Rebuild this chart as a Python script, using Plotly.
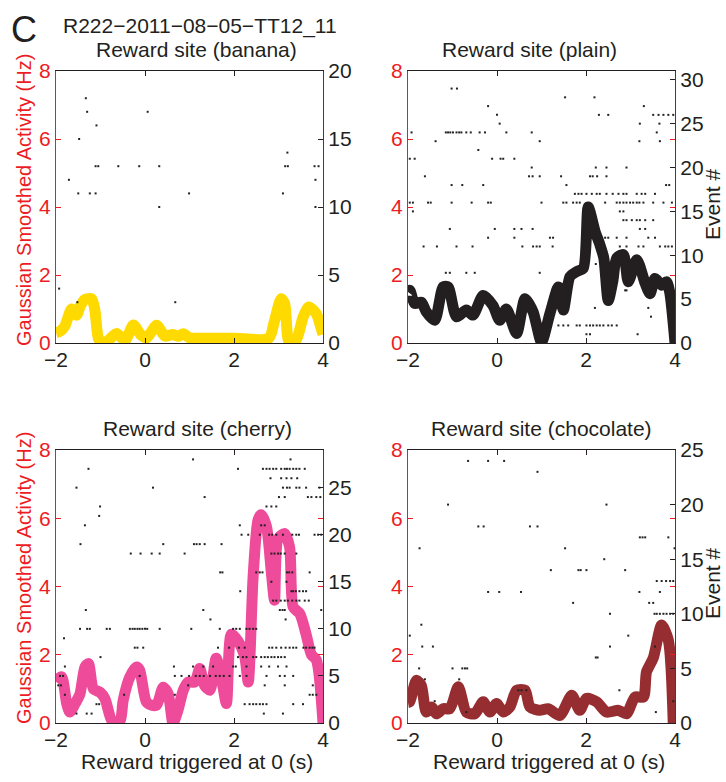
import plotly.graph_objects as go

# ---------------- data ----------------
time_range = [-2, 4]
hz_range = [0, 8]

banana_t = [-2.0, -1.9, -1.8, -1.65, -1.54, -1.45, -1.35, -1.2, -1.13, -1.05, -0.98, -0.85, -0.64, -0.45,
            -0.26, -0.1, 0.04, 0.26, 0.45, 0.62, 0.75, 0.86, 1.0, 1.1, 2.0, 2.78, 2.9, 3.06, 3.14, 3.24,
            3.4, 3.55, 3.68, 3.85, 3.95, 4.0]
banana_hz = [0.3, 0.35, 0.5, 1.0, 0.82, 1.1, 1.28, 1.3, 1.0, 0.15, 0.02, 0.05, 0.28, 0.08,
             0.53, 0.25, 0.15, 0.52, 0.2, 0.25, 0.2, 0.27, 0.15, 0.14, 0.14, 0.14, 0.6, 1.3, 1.15, 0.02,
             0.1, 0.75, 1.06, 0.86, 0.47, 0.25]

plain_t = [-2.0, -1.96, -1.85, -1.7, -1.59, -1.4, -1.21, -1.1, -0.91, -0.69, -0.54, -0.31, -0.09, 0.06,
           0.21, 0.44, 0.63, 0.81, 1.0, 1.19, 1.38, 1.49, 1.64, 1.79, 1.94, 2.05, 2.2, 2.31, 2.4, 2.5,
           2.6, 2.69, 2.84, 2.95, 3.14, 3.33, 3.44, 3.55, 3.7, 3.81, 3.88, 4.0]
plain_hz = [1.5, 1.55, 1.16, 1.2, 0.92, 0.67, 1.65, 1.65, 0.77, 0.97, 0.82, 1.4, 1.1, 0.67,
            1.0, 0.28, 1.3, 0.92, 0.03, 0.87, 1.65, 0.97, 1.95, 2.1, 2.2, 4.0, 3.3, 2.9, 2.5, 1.25,
            1.8, 2.5, 2.6, 1.8, 2.45, 1.75, 1.45, 1.9, 1.7, 1.8, 1.5, 0.0]

cherry_t = [-2.0, -1.95, -1.87, -1.76, -1.69, -1.57, -1.46, -1.35, -1.27, -1.16, -1.01, -0.9, -0.75, -0.64,
            -0.55, -0.49, -0.34, -0.19, -0.12, 0.03, 0.15, 0.26, 0.41, 0.52, 0.63, 0.74, 0.86, 0.97,
            1.12, 1.23, 1.34, 1.46, 1.6, 1.72, 1.83, 1.94, 2.09, 2.24, 2.32, 2.43, 2.54, 2.61, 2.73,
            2.84, 2.91, 2.99, 3.14, 3.25, 3.33, 3.48, 3.62, 3.74, 3.85, 4.0]
cherry_hz = [1.2, 1.3, 1.35, 0.57, 0.32, 0.57, 0.86, 1.64, 1.74, 1.0, 0.9, 0.71, 0.08, 0.0,
             0.1, 0.66, 1.35, 1.64, 1.55, 0.62, 0.52, 0.52, 1.05, 0.86, 0.0, 0.37, 0.96, 1.2,
             1.2, 1.6, 1.1, 0.96, 1.9, 1.3, 0.57, 2.6, 2.4, 1.95, 1.2, 4.3, 5.95, 6.1, 5.75,
             4.4, 3.6, 5.4, 5.55, 5.15, 3.4, 3.2, 2.6, 2.0, 1.85, 0.0]

chocolate_t = [-2.0, -1.96, -1.81, -1.7, -1.59, -1.47, -1.36, -1.21, -1.06, -0.87, -0.69, -0.5, -0.31,
               -0.16, -0.01, 0.14, 0.29, 0.44, 0.63, 0.74, 0.96, 1.15, 1.41, 1.68, 1.86, 2.01, 2.24,
               2.46, 2.73, 2.91, 3.1, 3.29, 3.36, 3.51, 3.7, 3.85, 3.96]
chocolate_hz = [0.6, 0.62, 1.25, 1.1, 0.32, 0.47, 0.27, 0.42, 0.42, 1.06, 0.32, 0.27, 0.62,
                0.32, 0.57, 0.32, 0.47, 0.96, 0.96, 0.47, 0.37, 0.42, 0.22, 0.81, 0.37, 0.72, 0.62,
                0.32, 0.37, 0.27, 0.76, 0.76, 1.5, 1.9, 2.87, 2.43, 0.0]

# raster rows: (event #, spike times in s)
banana_raster = [
    (18, [-1.33]), (17, [-1.30, 0.06]), (16, [-1.09]), (15, [-1.48]), (14, [3.20]),
    (13, [-1.11, -1.05, -0.60, -0.13, 0.32, 3.15, 3.21, 3.81, 3.90]),
    (12, [-1.71, 3.83]), (11, [-1.50, -1.24, -1.11, 0.99, 3.10]), (10, [0.32, 3.83]),
    (4, [-1.93]), (3, [-1.52, 0.68]),
]
plain_raster = [
    (29, [-1.02, -0.90]), (28, [1.53, 2.19]), (27, [-0.20, 3.30]),
    (26, [0.00, 2.29, 2.50, 3.51, 3.63, 3.74, 3.85, 3.96]), (25, [0.06, 3.21, 3.65]),
    (24, [-1.92, -1.15, -1.10, -1.05, -0.99, -0.91, -0.85, -0.80, -0.69, -0.59, -0.39, -0.27, 0.21, 0.78, 3.59]),
    (23, [-1.38, 0.96, 3.20, 3.66]), (22, [-0.42]), (21, [-1.96, -1.85, -0.11, 0.08, 0.14, 0.39]),
    (20, [0.78, 2.22, 2.46, 2.91]), (19, [-1.62, 0.72, 0.80, 0.96, 1.44, 2.09, 2.15, 2.25, 2.46]),
    (18, [-1.02, -0.78, -0.31, 1.56, 3.80, 3.87]),
    (17, [1.75, 1.83, 1.90, 2.01, 2.13, 2.24, 2.31, 2.46, 2.60, 2.73, 2.84, 2.91, 3.14, 3.25, 3.33, 3.55]),
    (16, [-1.96, -1.89, -1.55, -1.49, -1.02, -0.57, -0.20, -0.14, 1.00, 1.49, 1.56, 1.71, 1.79, 1.86, 2.43,
          2.69, 2.76, 2.84, 2.91, 2.99, 3.06, 3.14, 3.20, 3.29, 3.51, 3.74, 3.93]),
    (15, [-1.89, 2.76, 2.84]), (14, [2.84, 2.91, 3.03, 3.14, 3.21, 3.33, 3.51]),
    (13, [-1.06, -0.05, 0.39, 0.55, 0.80, 3.21, 3.33]),
    (12, [-0.20, 0.39, 1.19, 1.26, 2.43, 2.50, 2.69, 2.91, 3.40, 3.55]),
    (11, [-1.65, -1.35, -0.91, -0.55, 0.57, 0.81, 0.89, 0.96, 1.25, 2.76, 2.91, 3.18, 3.29, 3.66, 3.78, 3.85, 3.93]),
    (9, [2.22]), (8, [-1.15, -1.06, -0.69, -0.50, 0.96]), (6, [2.88, 2.91]), (4, [2.20, 3.40]), (3, [3.46]),
    (2, [1.38, 1.49, 1.60, 1.79, 1.86, 2.01, 2.09, 2.16, 2.24, 2.31, 2.39, 2.50, 2.58, 2.69]),
    (1, [2.01, 2.09, 3.16]),
]
cherry_raster = [
    (28, [1.08, 3.27]),
    (27, [-1.27, 2.09, 2.65, 2.73, 2.80, 2.88, 2.95, 3.06, 3.14, 3.19, 3.25, 3.33, 3.40, 3.47, 3.59]),
    (26, [2.82, 3.06, 3.18, 3.29, 3.42]),
    (25, [-1.54, 0.18, 3.10, 3.19, 3.25, 3.40, 3.47, 3.62, 3.92]),
    (24, [1.34, 3.01, 3.14, 3.66, 3.74, 3.85, 3.94]), (23, [-1.01, 2.73, 2.84, 2.95]), (22, [-1.03]),
    (21, [-1.35, 2.13, 2.61, 2.69]),
    (20, [2.17, 2.32, 2.58, 2.79, 2.86, 2.95, 3.10, 3.31, 3.40, 3.46, 3.81, 3.89, 3.96]),
    (19, [-1.45, 0.41, 1.10, 1.16, 1.23, 1.34, 1.72]),
    (18, [-0.32, -0.10, 0.15, 0.33, 0.89, 2.84, 2.91, 2.99, 3.05, 3.14, 3.40]),
    (16, [1.69, 1.74, 2.50, 2.58, 2.64, 3.19, 3.24, 3.31, 3.70]), (15, [2.84, 3.18]),
    (14, [2.14, 3.29, 3.33, 3.39, 3.47, 3.55, 3.62]),
    (13, [2.88, 2.95, 3.05, 3.14, 3.21, 3.31, 3.40, 3.47, 3.59, 3.68]),
    (12, [-1.33, 1.31, 3.03, 3.09, 3.14, 3.96]), (11, [1.47, 3.16]),
    (10, [-1.46, -1.30, -1.24, -0.86, -0.79, -0.34, -0.28, -0.23, -0.17, -0.12, -0.06, 0.00, 0.05, 0.33,
          1.04, 1.68, 1.98, 2.05, 2.13, 2.28, 2.35, 2.43, 2.50]),
    (9, [-1.82]),
    (8, [-0.23, -0.17, -0.04, 1.64, 1.89, 2.11, 2.24, 2.79, 2.86, 2.95, 3.06, 3.16, 3.25, 3.33, 3.40, 3.56,
         3.62, 3.70, 3.76, 3.81]),
    (7, [-1.00, 2.09, 2.20, 2.28, 2.43, 2.50, 2.61, 2.69, 2.76, 2.84, 2.91, 2.99, 3.06, 3.14]),
    (6, [-1.80, 0.65, 1.08, 1.31, 1.53, 1.98, 2.04, 2.28, 2.61, 2.79, 2.99, 3.18]),
    (5, [-1.91, -1.84, -0.12, 0.67, 0.82, 0.99, 1.14, 1.23, 1.32, 1.46, 1.59, 1.68, 1.77, 1.90, 2.13, 2.28,
         2.73, 3.03, 3.14, 3.33]),
    (4, [-1.95, -1.89, 0.97, 2.69, 3.14, 3.77]), (3, [-1.80, -0.47, 0.67, 3.70, 3.77, 3.85]),
    (2, [-1.09, -1.03, 2.24, 2.35, 2.43, 2.50, 2.58, 2.65, 2.73, 3.33, 3.55]),
    (1, [-1.54, -1.31, -1.20, 2.67, 3.10]),
]
chocolate_raster = [
    (24, [-0.65, -0.20, 0.16]), (23, [0.91]), (20, [-1.10, 2.46]), (18, [-0.42, -0.30, 0.74, 0.91]),
    (17, [3.21, 3.27, 3.33, 3.85]), (16, [-1.74, 1.53, 3.99]), (15, [2.41]),
    (14, [1.21, 1.83, 1.88, 2.01, 2.88]), (13, [3.59, 3.70, 3.80, 3.89, 3.96]),
    (12, [-0.20, 0.05, 0.54, 3.20, 3.66]), (11, [1.71, 3.42, 3.51]),
    (10, [2.54, 3.54, 3.59, 3.66, 3.74, 3.81, 3.89, 3.96]), (9, [-1.70]), (8, [-1.96, 2.95]),
    (7, [-1.68, -1.44, 2.54, 3.55]), (6, [2.22, 2.26]), (5, [-1.75, -1.00, -0.78, -0.72, -0.67]),
    (4, [-1.62, -0.85]), (3, [0.48, 0.55, 0.66, 2.75]), (2, [-1.40, 3.96]), (1, [-0.69, 3.57]),
]

panel_titles = ["Reward site (banana)", "Reward site (plain)", "Reward site (cherry)", "Reward site (chocolate)"]
event_ranges = [[0, 20], [0, 31], [0, 29], [0, 25]]
event_dticks = [5, 5, 5, 5]
line_colors = ["#FFDA00", "#231F20", "#EE4B9B", "#962D30"]
super_title = "R222\u22122011\u221208\u221205\u2212TT12_11"
ylabel_left = "Gaussian Smoothed Activity (Hz)"
ylabel_right = "Event #"
xlabel = "Reward triggered at 0 (s)"

curves = [(banana_t, banana_hz), (plain_t, plain_hz), (cherry_t, cherry_hz), (chocolate_t, chocolate_hz)]
rasters = [banana_raster, plain_raster, cherry_raster, chocolate_raster]

# ---------------- layout geometry ----------------
W, H = 726, 782
RED = "#ED1C24"
INK = "#231F20"
FONT = "Liberation Sans, Arial, Helvetica, sans-serif"
FS = 21
px_x = [(56, 323), (408, 675), (56, 323), (408, 675)]
px_y = [(71, 343), (71, 343), (450, 723), (450, 723)]

fig = go.Figure()
layout = dict(width=W, height=H, margin=dict(l=0, r=0, t=0, b=0, autoexpand=False),
              plot_bgcolor="white", paper_bgcolor="white", showlegend=False,
              font=dict(family=FONT, size=FS, color=INK))

for i in range(4):
    xa = f"x{i+1}" if i else "x"
    ya = f"y{2*i+1}" if i else "y"
    yb = f"y{2*i+2}"
    xdom = [px_x[i][0] / W, px_x[i][1] / W]
    ydom = [1 - px_y[i][1] / H, 1 - px_y[i][0] / H]

    t, hz = curves[i]
    fig.add_trace(go.Scatter(x=t, y=hz, mode="lines", xaxis=xa, yaxis=ya,
                             line=dict(color=line_colors[i], width=11, shape="spline", smoothing=0.7),
                             hoverinfo="skip"))
    rx, ry = [], []
    for ev, times in rasters[i]:
        for tt in times:
            rx.append(tt)
            ry.append(ev)
    fig.add_trace(go.Scatter(x=rx, y=ry, mode="markers", xaxis=xa, yaxis=yb,
                             marker=dict(symbol="square", size=2, color="#222222", line=dict(width=0)),
                             hoverinfo="skip"))

    kx = "xaxis" + (str(i + 1) if i else "")
    ky = "yaxis" + (str(2 * i + 1) if i else "")
    ky2 = "yaxis" + str(2 * i + 2)
    layout[kx] = dict(domain=xdom, anchor=ya, automargin=False, ticklabelstandoff=-2,
                      range=time_range, dtick=2, ticks="inside", ticklen=5, tickcolor=INK,
                      showline=True, linecolor=INK, linewidth=1.3, mirror="ticks",
                      showgrid=False, zeroline=False, tickfont=dict(size=FS, color=INK))
    layout[ky] = dict(domain=ydom, anchor=xa, range=hz_range, dtick=2, ticks="inside", ticklen=5,
                      automargin=False,
                      tickcolor=RED, showline=True, linecolor=RED, linewidth=1.3, mirror="ticks",
                      showgrid=False, zeroline=False, tickfont=dict(size=FS, color=RED))
    layout[ky2] = dict(overlaying=ya, anchor=xa, side="right", range=event_ranges[i], automargin=False,
                       dtick=event_dticks[i], ticks="inside", ticklen=5, tickcolor=INK,
                       showline=True, linecolor="#7A2424", linewidth=1.3, showgrid=False,
                       zeroline=False, tickfont=dict(size=FS, color=INK))

fig.update_layout(**layout)

ann = []
def A(text, x, y, **kw):
    d = dict(text=text, x=x / W, y=1 - y / H, xref="paper", yref="paper", showarrow=False,
             xanchor="center", yanchor="middle", font=dict(family=FONT, size=FS, color=INK))
    d.update(kw)
    ann.append(d)

A("C", 24, 30, font=dict(family=FONT, size=36, color=INK))
A(super_title, 200, 26)
A(panel_titles[0], 196, 49)
A(panel_titles[1], 529, 50)
A(panel_titles[2], 197, 428)
A(panel_titles[3], 541, 428)
A(ylabel_left, 24, 200, textangle=-90, font=dict(family=FONT, size=20, color=RED))
A(ylabel_left, 24, 578, textangle=-90, font=dict(family=FONT, size=20, color=RED))
A(ylabel_right, 712, 204, textangle=-90)
A(ylabel_right, 712, 583, textangle=-90)
A(xlabel, 197, 761)
A(xlabel, 549, 761)
fig.update_layout(annotations=ann)

fig.write_html("out.html")
